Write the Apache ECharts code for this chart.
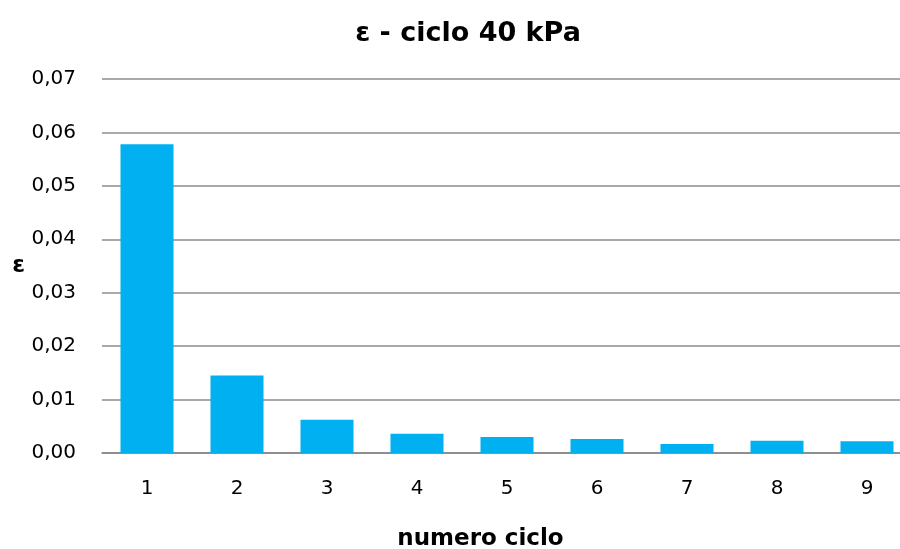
<!DOCTYPE html>
<html>
<head>
<meta charset="utf-8">
<script src="https://cdn.jsdelivr.net/npm/echarts@6/dist/echarts.min.js"></script>
<style>
  html, body { margin: 0; padding: 0; background: #fff; }
  #chart { width: 900px; height: 549px; }
</style>
</head>
<body>
<div id="chart"></div>
<script>
// Strain per loading cycle at 40 kPa
const cycles = ['1', '2', '3', '4', '5', '6', '7', '8', '9'];
const strain = [0.0578, 0.0145, 0.0062, 0.0036, 0.0030, 0.0026, 0.0017, 0.0023, 0.0022];
const yTicks = { min: 0, max: 0.07, interval: 0.01 };

const FONT = 'DejaVu Sans';

const chart = echarts.init(document.getElementById('chart'));
chart.setOption({
  animation: false,
  backgroundColor: '#ffffff',
  title: {
    text: 'ε - ciclo 40 kPa',
    left: 463,
    textAlign: 'center',
    top: 15,
    textStyle: { fontFamily: FONT, fontWeight: 'bold', fontSize: 27, color: '#000' }
  },
  // plot area runs slightly past the right border of the canvas
  grid: { left: 102, right: -12, top: 79, bottom: 96, containLabel: false, outerBoundsMode: 'none' },
  xAxis: {
    type: 'category',
    data: cycles,
    name: 'numero ciclo',
    nameLocation: 'middle',
    nameGap: 75,
    nameTextStyle: {
      fontFamily: FONT, fontWeight: 'bold', fontSize: 23, color: '#000',
      padding: [0, 53, 0, 0]
    },
    axisLine: { lineStyle: { color: '#878787', width: 1.5 } },
    axisTick: { show: false },
    axisLabel: { fontFamily: FONT, fontSize: 20, color: '#000', margin: 26 }
  },
  yAxis: {
    type: 'value',
    min: yTicks.min,
    max: yTicks.max,
    interval: yTicks.interval,
    name: 'ε',
    nameLocation: 'middle',
    nameGap: 77,
    nameRotate: 0,
    nameTextStyle: {
      fontFamily: FONT, fontWeight: 'bold', fontSize: 23, color: '#000',
      padding: [0, 0, 7, 0]
    },
    axisLine: { show: false },
    axisTick: { show: false },
    splitLine: { lineStyle: { color: '#8c8c8c', width: 1.5 } },
    axisLabel: {
      fontFamily: FONT, fontSize: 20, color: '#000', margin: 26,
      formatter: v => v.toFixed(2).replace('.', ',')
    }
  },
  series: [{
    type: 'bar',
    data: strain,
    barWidth: 53,
    itemStyle: { color: '#00B0F0' }
  }]
});
</script>
</body>
</html>
